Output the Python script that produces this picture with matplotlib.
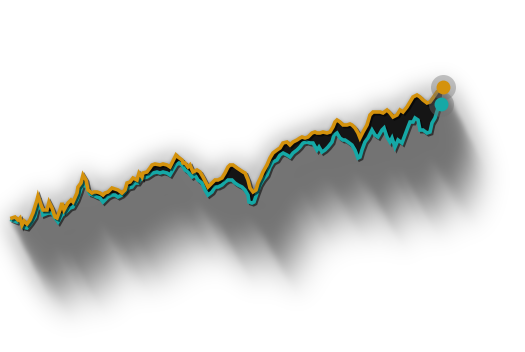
import numpy as np
import matplotlib
matplotlib.use("Agg")
import matplotlib.pyplot as plt
import matplotlib.patheffects as pe

# traced series (x = day position, y = level measured from the top of the canvas)
gold_x = [12, 15, 18, 20, 22, 24, 27, 30, 33, 37, 38, 41, 43, 47, 49, 52, 55, 57, 60, 62, 64, 68, 71, 73, 77, 78,
          81, 83, 86, 88, 92, 94, 97, 100, 103, 105, 108, 112, 115, 118, 122, 125, 127, 130, 133, 137, 139, 142,
          143, 147, 150, 152, 155, 160, 163, 167, 170, 173, 176, 178, 182, 183, 185, 188, 190, 193, 197, 200, 203,
          207, 208, 212, 215, 218, 222, 225, 228, 230, 233, 237, 240, 243, 245, 248, 250, 253, 256, 258, 261, 263,
          267, 270, 273, 277, 280, 283, 287, 290, 293, 297, 300, 302, 305, 308, 312, 315, 317, 320, 323, 327, 330,
          333, 335, 337, 340, 343, 347, 350, 352, 355, 358, 360, 363, 367, 370, 373, 377, 380, 383, 387, 390, 393,
          397, 400, 403, 407, 410, 413, 417, 420, 423, 427, 430, 433, 437, 443]
gold_y = [218, 217, 220, 218, 225, 221, 224, 220, 213, 200, 196, 205, 210, 210, 202, 208, 217, 218, 210, 203, 210,
          203, 200, 202, 193, 187, 183, 175, 180, 190, 193, 192, 192, 193, 195, 193, 192, 188, 189, 190, 193, 190,
          183, 182, 178, 180, 173, 177, 173, 172, 168, 165, 164, 165, 164, 165, 167, 161, 155, 157, 160, 163, 163,
          167, 165, 172, 170, 172, 177, 185, 187, 183, 180, 180, 178, 173, 167, 165, 165, 168, 170, 172, 173, 180,
          188, 192, 190, 183, 177, 172, 165, 158, 153, 150, 148, 143, 142, 145, 142, 140, 138, 137, 138, 137, 133,
          132, 133, 133, 132, 133, 132, 127, 122, 120, 122, 125, 125, 124, 125, 128, 133, 138, 132, 125, 115, 112,
          112, 112, 113, 110, 113, 117, 115, 110, 112, 107, 102, 97, 95, 97, 100, 103, 102, 98, 92, 87]

teal_x = [12, 17, 20, 23, 27, 31, 35, 38, 42, 43, 48, 52, 55, 58, 62, 65, 70, 73, 77, 80, 83, 87, 90, 93, 97, 100,
          103, 105, 108, 112, 115, 118, 122, 125, 128, 132, 135, 138, 140, 143, 147, 150, 153, 157, 160, 163, 167,
          170, 173, 176, 179, 182, 185, 188, 192, 195, 198, 202, 205, 208, 212, 215, 218, 222, 225, 228, 232, 235,
          238, 242, 245, 248, 249, 252, 254, 257, 260, 263, 267, 270, 273, 277, 280, 283, 287, 290, 293, 297, 300,
          303, 307, 310, 313, 317, 319, 322, 325, 328, 332, 334, 337, 340, 343, 345, 348, 352, 355, 358, 360, 362,
          365, 368, 372, 375, 378, 382, 384, 387, 390, 392, 395, 398, 402, 405, 408, 410, 413, 415, 418, 420, 423,
          427, 430, 432, 435, 438, 441]
teal_y = [220, 222, 221, 227, 228, 223, 217, 205, 210, 215, 213, 213, 218, 222, 215, 213, 208, 207, 200, 192, 183,
          188, 194, 195, 197, 198, 202, 200, 197, 195, 195, 197, 195, 192, 188, 187, 183, 183, 180, 178, 177, 175,
          173, 172, 173, 172, 173, 175, 170, 165, 163, 165, 170, 172, 177, 175, 180, 183, 190, 195, 192, 187, 187,
          185, 182, 180, 180, 183, 185, 187, 190, 195, 202, 203, 202, 193, 185, 180, 175, 167, 162, 160, 155, 153,
          155, 157, 153, 150, 147, 143, 142, 143, 143, 150, 147, 152, 150, 147, 142, 135, 133, 138, 140, 140, 142,
          145, 150, 158, 157, 150, 142, 138, 130, 135, 137, 130, 128, 137, 142, 138, 147, 140, 143, 135, 127, 122,
          122, 118, 120, 130, 130, 133, 132, 123, 118, 108, 104]

GOLD = "#d4920c"
TEAL = "#15a8a6"
W, H = 525, 352


def setup(fig):
    ax = fig.add_axes([0, 0, 1, 1])
    ax.set_xlim(0, W)
    ax.set_ylim(H, 0)
    ax.axis("off")
    return ax


def blur(a, sig):
    F = np.fft.fft2(a)
    ky = np.fft.fftfreq(a.shape[0])[:, None]
    kx = np.fft.fftfreq(a.shape[1])[None, :]
    return np.real(np.fft.ifft2(F * np.exp(-2 * np.pi ** 2 * sig ** 2 * (kx ** 2 + ky ** 2))))


poly_x = gold_x + teal_x[::-1]
poly_y = gold_y + teal_y[::-1]

# silhouette of the ribbon, used to cast the shadow
fig2 = plt.figure(figsize=(W / 100, H / 100), dpi=100)
ax2 = setup(fig2)
ax2.fill(poly_x, poly_y, color="k", lw=0)
ax2.plot(gold_x, gold_y, color="k", lw=2.6)
ax2.plot(teal_x, teal_y, color="k", lw=2.6)
fig2.canvas.draw()
mask = 1 - np.asarray(fig2.canvas.buffer_rgba())[:, :, 0] / 255.0
plt.close(fig2)

# sweep the silhouette down-right; flat near the line, fading further away
pad = 200
P = np.zeros((H + pad, W + pad))
P[:H, :W] = mask
solid = np.zeros_like(P)
tmap = np.ones_like(P)
for t in np.linspace(0, 1, 110):
    dy, dx = int(round(104 * t)), int(round(52 * t))
    sh = np.roll(np.roll(P, dy, 0), dx, 1)
    s = np.clip((t - 0.3) / 0.7, 0, 1)
    w = 0.55 * (1 - s * s * (3 - 2 * s))
    solid = np.maximum(solid, w * sh)
    tmap = np.where(sh > 0.5, np.minimum(tmap, t), tmap)
near = blur(solid, 2.5)
far = blur(solid, 12.0)
tm = np.clip(blur(tmap, 6.0), 0, 1)
shadow = (near * (1 - tm) + far * tm)[:H, :W]

fig = plt.figure(figsize=(W / 100, H / 100), dpi=100)
ax = setup(fig)
img = np.zeros((H, W, 4))
img[:, :, 3] = np.clip(shadow, 0, 1)
ax.imshow(img, extent=(0, W, H, 0), origin="upper", zorder=0, interpolation="bilinear")

ax.fill(poly_x, poly_y, color="#151515", lw=0, zorder=2)
edge = [pe.SimpleLineShadow(offset=(1.2, -1.2), shadow_color="k", alpha=0.55), pe.Normal()]
ax.plot(teal_x, teal_y, color=TEAL, lw=2.6, zorder=3, solid_joinstyle="miter", path_effects=edge)
ax.plot(gold_x, gold_y, color=GOLD, lw=2.6, zorder=4, solid_joinstyle="miter", path_effects=edge)

# end markers with soft halos
ax.plot(gold_x[-1], gold_y[-1], "o", ms=18, color="#6f6f6f", alpha=0.4, mec="none", zorder=5)
ax.plot(teal_x[-1], teal_y[-1], "o", ms=18, color="#6f6f6f", alpha=0.4, mec="none", zorder=5)
ax.plot(gold_x[-1], gold_y[-1], "o", ms=10, color=GOLD, mec="none", zorder=6)
ax.plot(teal_x[-1], teal_y[-1], "o", ms=10, color=TEAL, mec="none", zorder=6)

fig.savefig("out.png", dpi=100)
